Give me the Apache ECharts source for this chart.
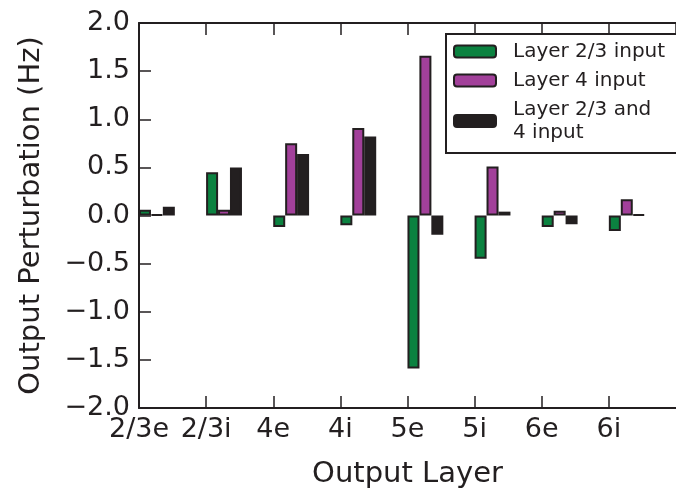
<!DOCTYPE html>
<html>
<head>
<meta charset="utf-8">
<script src="https://cdn.jsdelivr.net/npm/echarts@6/dist/echarts.min.js"></script>
<style>
  html, body { margin: 0; padding: 0; background: #fff; }
  #chart { width: 676px; height: 494px; }
</style>
</head>
<body>
<div id="chart"></div>
<script>
// output layers (x categories)
const layers = ['2/3e', '2/3i', '4e', '4i', '5e', '5i', '6e', '6i'];
// perturbation in Hz
const l23Input = [0.06, 0.45, -0.12, -0.10, -1.59, -0.45, -0.12, -0.16];
const l4Input = [0.01, 0.06, 0.75, 0.91, 1.66, 0.51, 0.05, 0.17];
const l23and4Input = [0.09, 0.50, 0.64, 0.82, -0.20, 0.04, -0.09, 0.01];

const ink = '#231f20';
const font = 'DejaVu Sans';
const unitPx = 67.5;          // px per category
const barPx = 12;
const barFrac = barPx / unitPx; // bars start at the tick, side by side

const mkSeries = (name, vals, k, color) => ({
  name: name,
  type: 'bar',
  barWidth: barPx,
  barGap: '-100%',
  itemStyle: { color: color, borderColor: ink, borderWidth: 2 },
  data: vals.map((v, i) => [i + (k + 0.5) * barFrac, v])
});

const tick = { show: true, inside: true, length: 12, lineStyle: { color: ink, width: 1.5 } };

const chart = echarts.init(document.getElementById('chart'));
const option = {
  animation: false,
  grid: { left: 139, top: 23, width: 8 * unitPx, height: 390 },
  legend: {
    left: 446, top: 34,
    orient: 'vertical',
    itemWidth: 42, itemHeight: 12, itemGap: 6,
    padding: [6, 12, 9, 7],
    borderColor: ink, borderWidth: 2,
    backgroundColor: '#fff',
    textStyle: { fontFamily: font, fontSize: 20, color: ink, lineHeight: 23, padding: [0, 0, 0, 12] },
    data: ['Layer 2/3 input', 'Layer 4 input', 'Layer 2/3 and\n4 input']
  },
  xAxis: [{
    type: 'value',
    min: 0, max: 8, interval: 1,
    name: 'Output Layer',
    nameLocation: 'middle',
    nameGap: 52,
    nameTextStyle: { fontFamily: font, fontSize: 29, color: ink },
    axisLine: { show: true, onZero: false, lineStyle: { color: ink, width: 2 } },
    axisTick: tick,
    axisLabel: {
      margin: 8, showMaxLabel: false,
      fontFamily: font, fontSize: 27, color: ink,
      formatter: v => layers[Math.round(v)] || ''
    },
    splitLine: { show: false }
  }, {
    type: 'value',
    position: 'top',
    min: 0, max: 8, interval: 1,
    axisLine: { show: true, onZero: false, lineStyle: { color: ink, width: 2 } },
    axisTick: tick,
    axisLabel: { show: false },
    splitLine: { show: false }
  }],
  yAxis: {
    type: 'value',
    min: -2, max: 2, interval: 0.5,
    name: 'Output Perturbation (Hz)',
    nameLocation: 'middle',
    nameGap: 93,
    nameTextStyle: { fontFamily: font, fontSize: 29, color: ink },
    axisLine: { show: true, onZero: false, lineStyle: { color: ink, width: 2 } },
    axisTick: tick,
    axisLabel: {
      margin: 9,
      fontFamily: font, fontSize: 27, color: ink,
      formatter: v => v.toFixed(1).replace('-', '\u2212')
    },
    splitLine: { show: false }
  },
  series: [
    mkSeries('Layer 2/3 input', l23Input, 0, '#0b8240'),
    mkSeries('Layer 4 input', l4Input, 1, '#a2409a'),
    mkSeries('Layer 2/3 and\n4 input', l23and4Input, 2, ink)
  ]
};
option && chart.setOption(option);
</script>
</body>
</html>
